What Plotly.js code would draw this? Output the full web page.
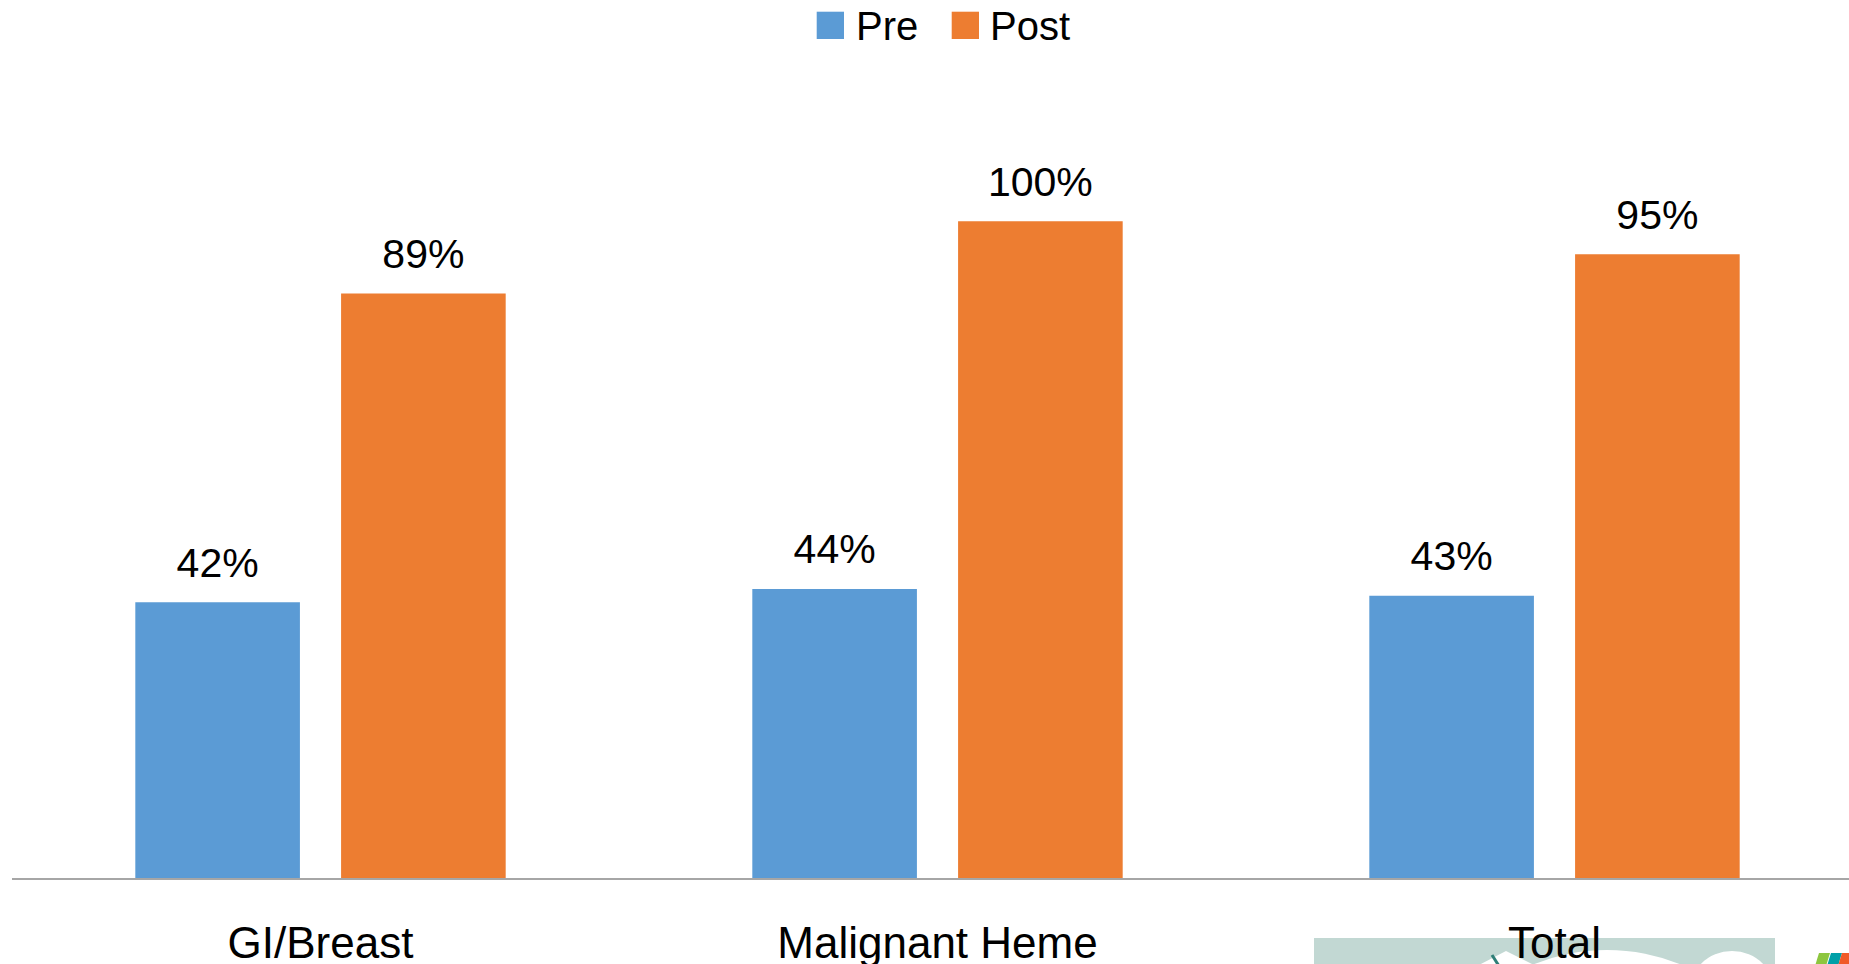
<!DOCTYPE html>
<html>
<head>
<meta charset="utf-8">
<script src="https://cdn.plot.ly/plotly-3.0.1.min.js"></script>
<style>html,body{margin:0;padding:0;background:#fff;}#chart{width:1849px;height:964px;}</style>
</head>
<body>
<div id="chart"></div>
<script>
// ---- data ----
const categories = ['GI/Breast', 'Malignant Heme', 'Total'];
const preValues = [42, 44, 43];
const postValues = [89, 100, 95];
const seriesNames = ['Pre', 'Post'];
const seriesColors = ['#5b9bd5', '#ed7d31'];

const FONT = 'Liberation Sans, Arial, sans-serif';
const W = 1849, H = 964;
const M = {l: 12, r: 0, t: 90, b: 86};
const plotW = W - M.l - M.r, plotH = H - M.t - M.b;
const px2x = px => (px - M.l) / plotW;
const px2y = py => (H - M.b - py) / plotH;

const seriesValues = [preValues, postValues];
const traces = [];
seriesValues.forEach((vals, i) => {
  traces.push({
    type: 'bar', name: seriesNames[i], x: categories, y: vals,
    marker: {color: seriesColors[i]}, hoverinfo: 'skip', showlegend: false
  });
});
seriesValues.forEach((vals, i) => {
  traces.push({
    type: 'scatter', mode: 'markers+text', name: seriesNames[i] + ' labels',
    x: categories, y: vals, text: vals.map(v => v + '%'),
    textposition: 'top center', textfont: {family: FONT, size: 41, color: '#000'},
    marker: {size: 23, color: 'rgba(0,0,0,0)'}, hoverinfo: 'skip',
    showlegend: false, cliponaxis: false
  });
});

// legend drawn manually (large square swatches)
const legendItems = [
  {sq: [816.7, 844], tx: 854},
  {sq: [951.7, 979], tx: 988}
];
const shapes = [];
const annotations = [];
legendItems.forEach((it, i) => {
  shapes.push({type: 'rect', xref: 'paper', yref: 'paper',
    x0: px2x(it.sq[0]), x1: px2x(it.sq[1]), y0: px2y(39), y1: px2y(11.7),
    fillcolor: seriesColors[i], line: {width: 0}});
  annotations.push({xref: 'paper', yref: 'paper', x: px2x(it.tx), y: px2y(26),
    xanchor: 'left', yanchor: 'middle', showarrow: false, text: seriesNames[i],
    font: {family: FONT, size: 40, color: '#000'}});
});

// decorative image fragment at bottom right
shapes.push({type: 'rect', xref: 'paper', yref: 'paper', layer: 'below',
  x0: px2x(1314), x1: px2x(1775), y0: px2y(966), y1: px2y(938),
  fillcolor: '#c2d8d3', line: {width: 0}});
shapes.push({type: 'path', xref: 'paper', yref: 'paper', layer: 'below',
  path: `M${px2x(1477)},${px2y(966)} L${px2x(1506)},${px2y(951)} L${px2x(1536)},${px2y(966)} Z`,
  fillcolor: '#ffffff', line: {width: 0}});
shapes.push({type: 'line', xref: 'paper', yref: 'paper', layer: 'below',
  x0: px2x(1492), y0: px2y(955), x1: px2x(1499), y1: px2y(966),
  line: {color: '#2f7f78', width: 3}});
shapes.push({type: 'circle', xref: 'paper', yref: 'paper', layer: 'below',
  x0: px2x(1607 - 195), x1: px2x(1607 + 195), y0: px2y(950 + 390), y1: px2y(950),
  fillcolor: '#ffffff', line: {width: 0}});
shapes.push({type: 'circle', xref: 'paper', yref: 'paper', layer: 'below',
  x0: px2x(1732 - 44), x1: px2x(1732 + 44), y0: px2y(951 + 88), y1: px2y(951),
  fillcolor: '#ffffff', line: {width: 0}});
const logo = [['#8dc63f', 1815], ['#00a0a8', 1827], ['#f05a28', 1838]];
logo.forEach(([c, x]) => {
  shapes.push({type: 'path', xref: 'paper', yref: 'paper', layer: 'below',
    path: `M${px2x(x)},${px2y(966)} L${px2x(x + 4)},${px2y(953)} L${px2x(x + 15)},${px2y(953)} L${px2x(x + 11)},${px2y(966)} Z`,
    fillcolor: c, line: {width: 0}});
});

const layout = {
  width: W, height: H, margin: M,
  paper_bgcolor: '#ffffff', plot_bgcolor: '#ffffff',
  barmode: 'group', bargap: 0.333, bargroupgap: 0.2,
  scattermode: 'group', scattergap: 0.333,
  showlegend: false,
  xaxis: {
    type: 'category', range: [-0.5, -0.5 + plotW / 617],
    showline: true, linecolor: '#a6a6a6', linewidth: 2,
    ticks: 'outside', ticklen: 25, tickcolor: 'rgba(0,0,0,0)',
    tickfont: {family: FONT, size: 44, color: '#000'},
    showgrid: false, zeroline: false, fixedrange: true
  },
  yaxis: {range: [0, 120], visible: false, fixedrange: true},
  shapes: shapes, annotations: annotations
};

Plotly.newPlot('chart', traces, layout, {displayModeBar: false, staticPlot: true});
</script>
</body>
</html>
